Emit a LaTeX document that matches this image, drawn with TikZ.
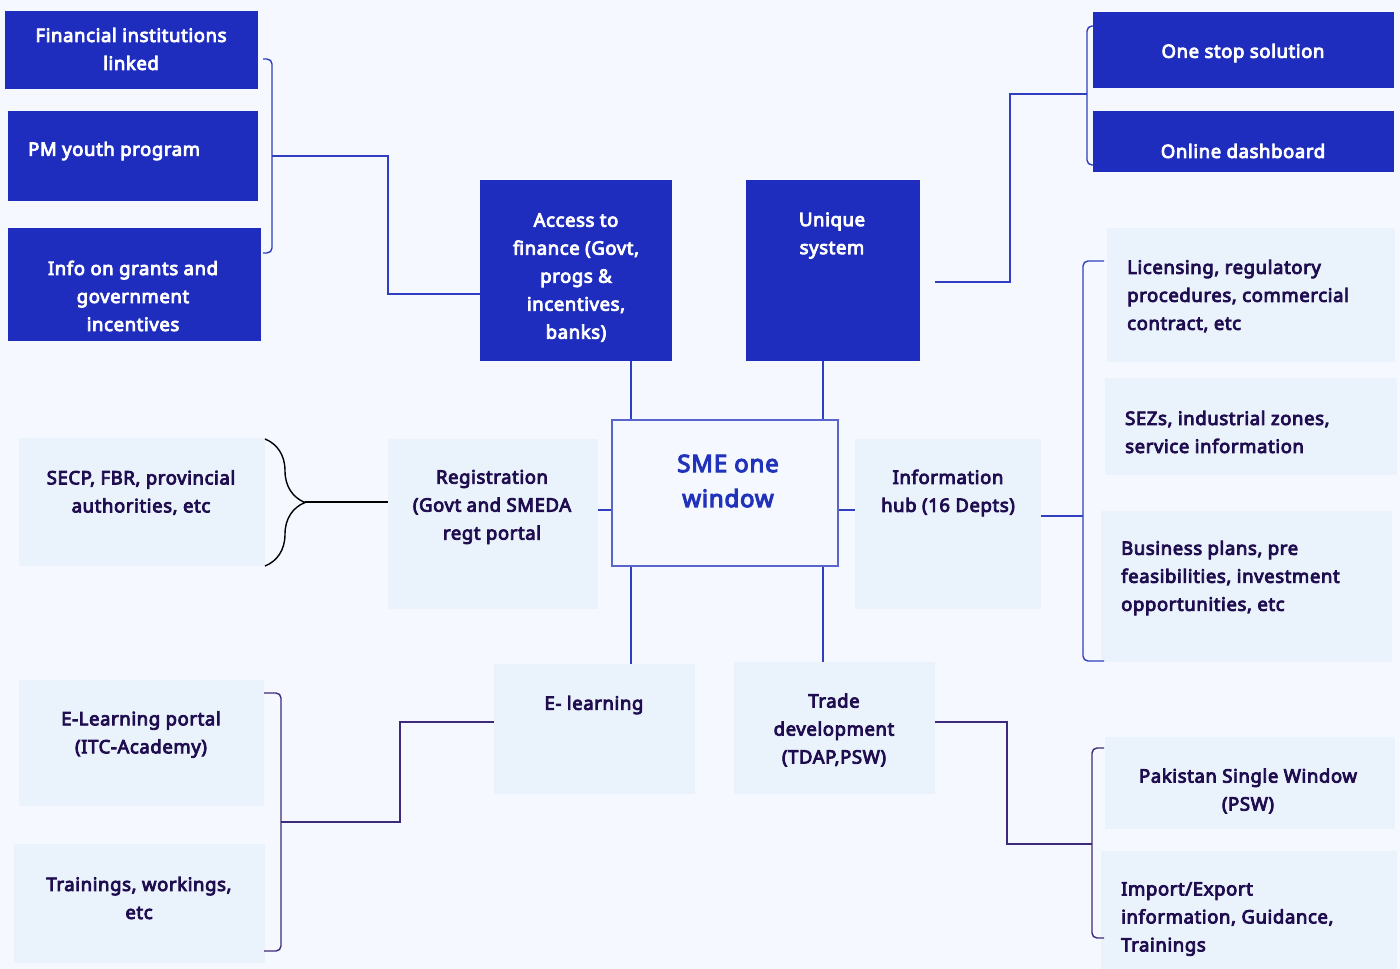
\documentclass[tikz,border=0pt]{standalone}
\usepackage{fontspec}
\setmainfont{Noto Sans}[BoldFont={Noto Sans}, BoldFeatures={FakeBold=4.5, LetterSpace=3.3}]
\usetikzlibrary{positioning}
\usetikzlibrary{decorations.pathreplacing}
\definecolor{bgcol}{HTML}{F5F8FE}
\definecolor{paleblue}{HTML}{EAF3FC}
\definecolor{deepblue}{HTML}{1F2DBE}
\definecolor{linkblue}{HTML}{2F3FC0}
\definecolor{inkdark}{HTML}{1F0D4F}
\definecolor{plum}{HTML}{3D2A7A}
\definecolor{smeblue}{HTML}{2233BB}

\begin{document}
\begin{tikzpicture}[x=1pt, y=-1pt,
	darkbox/.style={fill=deepblue, inner sep=0},
	palebox/.style={fill=paleblue, inner sep=0},
	whitetext/.style={text=white, font=\fontsize{18.5}{28}\selectfont\bfseries, align=center, inner sep=0},
	inktext/.style={text=inkdark, font=\fontsize{18.5}{28}\selectfont\bfseries, align=center, inner sep=0},
	lefttext/.style={inktext, align=left, anchor=west},
	link/.style={draw=linkblue, line width=1.4pt},
	plumlink/.style={draw=plum, line width=1.4pt},
	bracket/.style={rounded corners=5},
	curly/.style={decorate, decoration={brace, amplitude=#1}}]
	\useasboundingbox[fill=bgcol] (0,0) rectangle (1400,969);
	% dark boxes
	\node[darkbox, minimum width=253, minimum height=78] (fin) at (131.5,50) {};
	\node[darkbox, minimum width=250, minimum height=90] (pm) at (133,156) {};
	\node[darkbox, minimum width=253, minimum height=113] (grants) at (134.5,284.5) {};
	\node[darkbox, minimum width=192, minimum height=181] (access) at (576,270.5) {};
	\node[darkbox, minimum width=174, minimum height=181] (unique) at (833,270.5) {};
	\node[darkbox, minimum width=301, minimum height=76] (onestop) at (1243.5,50) {};
	\node[darkbox, minimum width=301, minimum height=61] (dash) at (1243.5,141.5) {};
	\node[whitetext] at (131,49) {Financial institutions\\linked};
	\node[whitetext, anchor=west] at (28,151) {PM youth program};
	\node[whitetext] at (133,296) {Info on grants and\\government\\incentives};
	\node[whitetext] at (576,277.5) {Access to\\finance (Govt,\\progs \&\\incentives,\\banks)};
	\node[whitetext] at (832,235.5) {Unique\\system};
	\node[whitetext] at (1243,53) {One stop solution};
	\node[whitetext] at (1243,151) {Online dashboard};
	% pale boxes
	\node[palebox, minimum width=288, minimum height=134] (lic) at (1251,295) {};
	\node[palebox, minimum width=292, minimum height=97] (sez) at (1251,426.5) {};
	\node[palebox, minimum width=291, minimum height=151] (biz) at (1246.5,586.5) {};
	\node[palebox, minimum width=186, minimum height=170] (info) at (948,524) {};
	\node[palebox, minimum width=210, minimum height=170] (reg) at (493,524) {};
	\node[palebox, minimum width=246, minimum height=128] (secp) at (142,502) {};
	\node[palebox, minimum width=201, minimum height=130] (elearn) at (594.5,729) {};
	\node[palebox, minimum width=201, minimum height=132] (trade) at (834.5,728) {};
	\node[palebox, minimum width=245, minimum height=126] (portal) at (141.5,743) {};
	\node[palebox, minimum width=251, minimum height=119] (train) at (139.5,903.5) {};
	\node[palebox, minimum width=290, minimum height=92] (psw) at (1250,783) {};
	\node[palebox, minimum width=296, minimum height=118] (impex) at (1249,910) {};
	\node[lefttext] at (1127,296) {Licensing, regulatory\\procedures, commercial\\contract, etc};
	\node[lefttext] at (1125,432) {SEZs, industrial zones,\\service information};
	\node[lefttext] at (1121,578) {Business plans, pre\\feasibilities, investment\\opportunities, etc};
	\node[inktext] at (948,493) {Information\\hub (16 Depts)};
	\node[inktext] at (492,507) {Registration\\(Govt and SMEDA\\regt portal};
	\node[inktext] at (141,492.5) {SECP, FBR, provincial\\authorities, etc};
	\node[inktext] at (594,705) {E- learning};
	\node[inktext] at (834,730) {Trade\\development\\(TDAP,PSW)};
	\node[inktext] at (141,734.5) {E-Learning portal\\(ITC-Academy)};
	\node[inktext] at (139,898) {Trainings, workings,\\etc};
	\node[inktext] at (1248,791) {Pakistan Single Window\\(PSW)};
	\node[lefttext] at (1121,919) {Import/Export\\information, Guidance,\\Trainings};
	% centre
	\node[draw=linkblue!80, fill=bgcol, line width=1.2pt, minimum width=226, minimum height=146, inner sep=0] (sme) at (725,493) {};
	\node[text=smeblue, font=\fontsize{24}{35}\selectfont\bfseries, align=center] at (728,481) {SME one\\window};
	% brackets
	\draw[link, bracket] (263,59) -- (272,59) -- (272,253) -- (263,253);
	\coordinate (ftip) at (272,156);
	\draw[link, bracket] (1093,26) -- (1087,26) -- (1087,165) -- (1093,165);
	\coordinate (otip) at (1087,94);
	\draw[line width=1.4pt, curly=40] (265,439) -- (265,566);
	\coordinate (stip) at (305,502);
	\draw[link, bracket] (1104,261) -- (1083,261) -- (1083,661) -- (1104,661);
	\coordinate (itip) at (1083,516);
	\draw[plumlink, bracket] (264,693) -- (281,693) -- (281,951) -- (264,951);
	\coordinate (etip) at (281,822);
	\draw[plumlink, bracket] (1104,748) -- (1092,748) -- (1092,938) -- (1104,938);
	\coordinate (ttip) at (1092,844);
	% connectors
	\draw[link] (access.west |- 0,294) -| (388,156) -- (ftip);
	\draw[link] ([shift={(15,11.5)}]unique.east) -| (1010,94) -- (otip);
	\draw[link] (sme.north -| 631,0) -- (access.south -| 631,0);
	\draw[link] (sme.north -| 823,0) -- (unique.south -| 823,0);
	\draw[link] (sme.south -| 631,0) -- (elearn.north -| 631,0);
	\draw[link] (sme.south -| 823,0) -- (trade.north -| 823,0);
	\draw[link] (sme.west |- 0,510) -- (reg.east |- 0,510);
	\draw[link] (sme.east |- 0,510) -- (info.west |- 0,510);
	\draw[line width=1.6pt] (stip) -- (reg.west |- stip);
	\draw[link] (info.east |- itip) -- (itip);
	\draw[plumlink] (elearn.west |- 0,722) -| (400,822) -- (etip);
	\draw[plumlink] (trade.east |- 0,722) -| (1007,844) -- (ttip);
\end{tikzpicture}
\end{document}
